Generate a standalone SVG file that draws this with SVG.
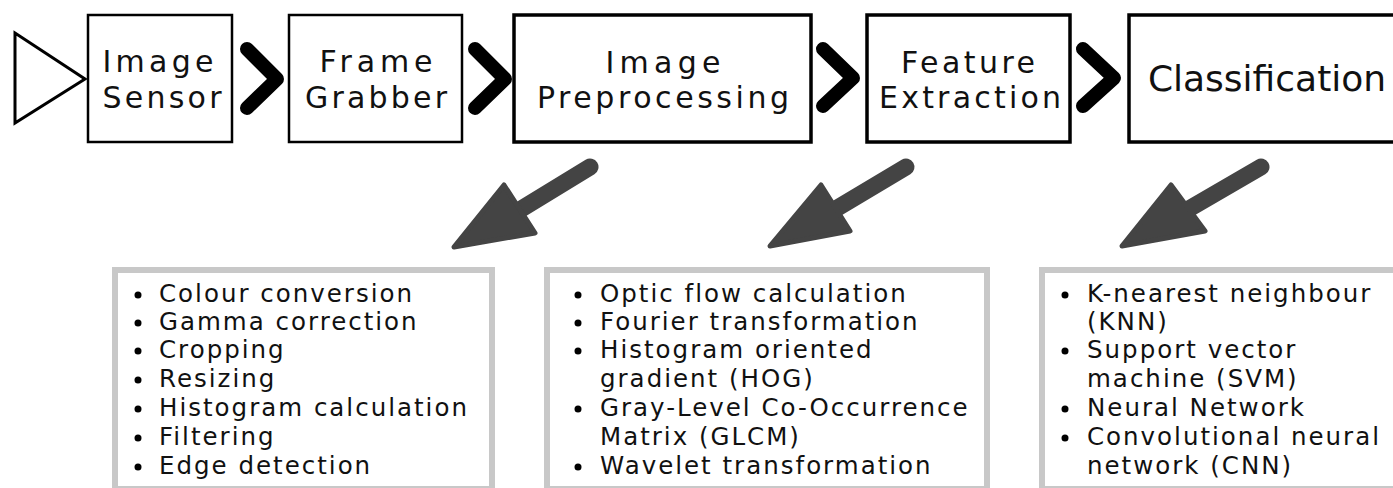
<svg xmlns="http://www.w3.org/2000/svg" width="1393" height="488" viewBox="0 0 1393 488">
<style>
.bg{fill:#fff}
.box{fill:#fff;stroke:#000;stroke-width:2.5}
.boxb{fill:#fff;stroke:#000;stroke-width:3.5}
.t{font-family:"DejaVu Sans",sans-serif;font-size:30px;fill:#111;text-anchor:middle}
.t2{font-family:"DejaVu Sans",sans-serif;font-size:36px;fill:#111;text-anchor:middle}
.chev{fill:none;stroke:#000;stroke-width:14;stroke-linecap:round;stroke-linejoin:round}
.arr{fill:#444;stroke:#444;stroke-width:5;stroke-linejoin:round}
.shaft{stroke:#444;stroke-width:17;stroke-linecap:round}
.list{fill:#fff;stroke:#c8c8c8;stroke-width:6}
.li{font-family:"DejaVu Sans",sans-serif;font-size:24.5px;letter-spacing:2px;fill:#111}
.dot{fill:#000}
</style>
<rect class="bg" x="0" y="0" width="1393" height="488"/>
<g id="input">
<polygon points="15,33 15,123 85,79" fill="#fff" stroke="#000" stroke-width="3"/>
</g>
<g id="image-sensor">
<rect class="box" x="88" y="15" width="144" height="127"/>
<text class="t" x="158" y="72" textLength="111" lengthAdjust="spacing">Image</text>
<text class="t" x="162" y="108" textLength="119" lengthAdjust="spacing">Sensor</text>
</g>
<g id="frame-grabber">
<rect class="box" x="289" y="15" width="173" height="127"/>
<text class="t" x="376" y="72" textLength="113" lengthAdjust="spacing">Frame</text>
<text class="t" x="376" y="108" textLength="142" lengthAdjust="spacing">Grabber</text>
</g>
<g id="image-preprocessing">
<rect class="boxb" x="514" y="15" width="297" height="127"/>
<text class="t" x="663" y="73" textLength="115" lengthAdjust="spacing">Image</text>
<text class="t" x="663" y="108" textLength="252" lengthAdjust="spacing">Preprocessing</text>
</g>
<g id="feature-extraction">
<rect class="boxb" x="867" y="15" width="203" height="127"/>
<text class="t" x="968" y="73" textLength="134" lengthAdjust="spacing">Feature</text>
<text class="t" x="970" y="108" textLength="182" lengthAdjust="spacing">Extraction</text>
</g>
<g id="classification">
<rect class="boxb" x="1129" y="15" width="300" height="127"/>
<text class="t2" x="1267" y="91">Classification</text>
</g>
<g id="connectors">
<polyline class="chev" points="247,49 277,79 247,108"/>
<polyline class="chev" points="475,49 505,79 475,108"/>
<polyline class="chev" points="823,49 853,78 823,106"/>
<polyline class="chev" points="1083,49 1114,78 1083,106"/>
<line class="shaft" x1="590" y1="167" x2="518" y2="211"/>
<polygon class="arr" points="454,247 504,185 535,233"/>
<line class="shaft" x1="906" y1="167" x2="834" y2="210"/>
<polygon class="arr" points="770,246 821,185 850,231"/>
<line class="shaft" x1="1261" y1="167" x2="1187" y2="210"/>
<polygon class="arr" points="1122,246 1171,185 1205,231"/>
</g>
<g id="preprocessing-list">
<rect class="list" x="115" y="270" width="377" height="219"/>
<g class="dot"><circle cx="138" cy="295" r="3.5"/><circle cx="138" cy="323" r="3.5"/><circle cx="138" cy="351" r="3.5"/><circle cx="138" cy="380" r="3.5"/><circle cx="138" cy="409" r="3.5"/><circle cx="138" cy="438" r="3.5"/><circle cx="138" cy="467" r="3.5"/></g>
<text class="li" x="159" y="302">Colour conversion</text>
<text class="li" x="159" y="330">Gamma correction</text>
<text class="li" x="159" y="358">Cropping</text>
<text class="li" x="159" y="387">Resizing</text>
<text class="li" x="159" y="416">Histogram calculation</text>
<text class="li" x="159" y="445">Filtering</text>
<text class="li" x="159" y="474">Edge detection</text>
</g>
<g id="feature-list">
<rect class="list" x="547" y="270" width="440" height="219"/>
<g class="dot"><circle cx="578" cy="295" r="3.5"/><circle cx="578" cy="323" r="3.5"/><circle cx="578" cy="351" r="3.5"/><circle cx="578" cy="409" r="3.5"/><circle cx="578" cy="467" r="3.5"/></g>
<text class="li" x="600" y="302">Optic flow calculation</text>
<text class="li" x="600" y="330">Fourier transformation</text>
<text class="li" x="600" y="358">Histogram oriented</text>
<text class="li" x="600" y="387">gradient (HOG)</text>
<text class="li" x="600" y="416">Gray-Level Co-Occurrence</text>
<text class="li" x="600" y="445">Matrix (GLCM)</text>
<text class="li" x="600" y="474">Wavelet transformation</text>
</g>
<g id="classification-list">
<rect class="list" x="1042" y="270" width="400" height="219"/>
<g class="dot"><circle cx="1065" cy="295" r="3.5"/><circle cx="1065" cy="351" r="3.5"/><circle cx="1065" cy="409" r="3.5"/><circle cx="1065" cy="438" r="3.5"/></g>
<text class="li" x="1087" y="302">K-nearest neighbour</text>
<text class="li" x="1087" y="330">(KNN)</text>
<text class="li" x="1087" y="358">Support vector</text>
<text class="li" x="1087" y="387">machine (SVM)</text>
<text class="li" x="1087" y="416">Neural Network</text>
<text class="li" x="1087" y="445">Convolutional neural</text>
<text class="li" x="1087" y="474">network (CNN)</text>
</g>
</svg>
